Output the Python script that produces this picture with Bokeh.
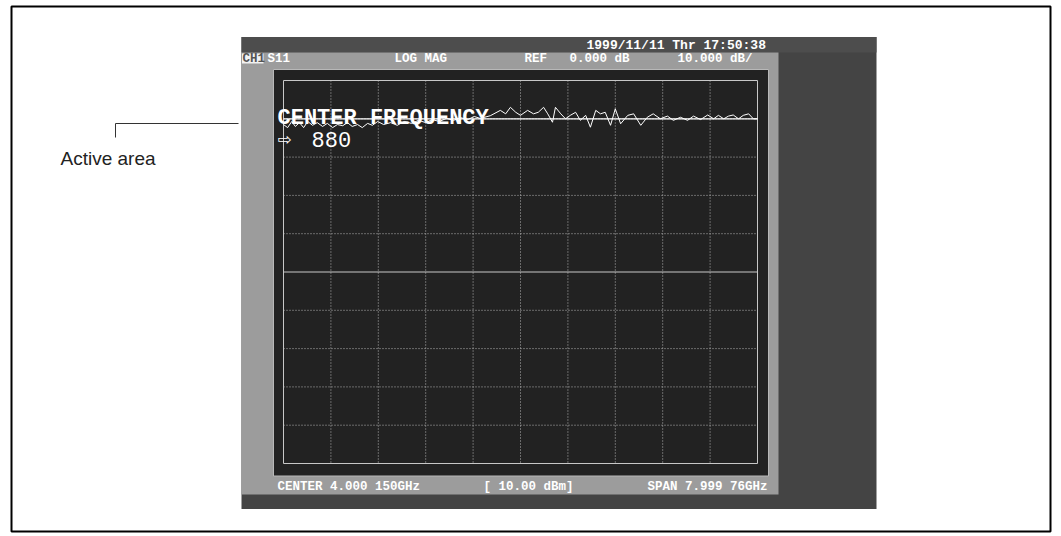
from bokeh.plotting import figure
from bokeh.models import Range1d
from bokeh.embed import file_html
from bokeh.resources import INLINE
from bokeh.core.properties import value

# ---------------- data ----------------
freq_ghz = [0.00, 0.07, 0.14, 0.20, 0.27, 0.34, 0.41, 0.49, 0.57, 0.66,
            0.74, 0.83, 0.91, 1.00, 1.08, 1.16, 1.25, 1.33, 1.42, 1.50,
            1.59, 1.69, 1.81, 1.92, 2.04, 2.16, 2.28, 2.40, 2.51, 2.63,
            2.75, 2.87, 2.99, 3.11, 3.22, 3.32,
            3.49, 3.66, 3.75, 3.83, 3.92, 4.00, 4.12, 4.22, 4.30, 4.39,
            4.46, 4.54, 4.59, 4.68, 4.76, 4.84, 4.93, 5.01, 5.10, 5.18,
            5.27, 5.35, 5.43, 5.52, 5.60, 5.69, 5.81, 5.91, 6.03, 6.14,
            6.24, 6.36, 6.48, 6.58, 6.70, 6.82, 6.92, 7.04, 7.16, 7.26,
            7.34, 7.43, 7.51, 7.59, 7.68, 7.76, 7.85, 7.93, 8.00]
trace_db = [-1.5, -2.3, -0.7, -2.0, -1.0, -2.3, -0.7, -1.7, -1.0, -2.0,
            -1.2, -2.3, -1.5, -1.8, -1.0, -2.0, -1.5, -2.3, -1.2, -1.7,
            -0.7, -1.5, -1.0, -1.7, -0.7, -1.2, -0.4, -1.0, -0.2, -0.7,
            0.1, -0.4, 0.3, -0.2, 0.6, 0.1,
            0.8, 2.2, 1.3, 3.0, 1.7, 0.9, 2.2, 1.3, 1.7, 3.0,
            1.3, -0.9, 3.0, 1.3, 0.0, 0.9, 1.7, -0.4, 0.9, -2.2,
            2.2, 1.3, 1.7, -1.7, 2.6, -1.3, 0.9, 1.3, -1.7, 0.4,
            1.3, 0.0, 0.7, -0.4, 0.4, -0.4, 0.7, -0.2, 1.0, 0.0,
            0.9, 0.0, 0.7, 1.0, 0.0, 0.9, 1.3, 0.0, 0.0]

ref_level_db = 0.0
db_per_div = 10.0
center_ghz = 4.000150
span_ghz = 7.99976

date_text = "1999/11/11 Thr 17:50:38"
channel_label = "CH1"
header_labels = ["S11", "LOG MAG", "REF", "0.000 dB", "10.000 dB/"]
footer_labels = ["CENTER 4.000 150GHz", "[ 10.00 dBm]", "SPAN 7.999 76GHz"]
entry_title = "CENTER FREQUENCY"
entry_arrow = "\u21e8"
entry_value = "880"
callout_text = "Active area"

# ---------------- layout (picture pixels) ----------------
OFF = 0
W, H = 1055, 533
GX0, GX1 = 283, 757      # graticule left/right
GY0, GY1 = 80, 463       # graticule top/bottom

p = figure(width=W, height=H,
           x_range=Range1d(OFF, OFF + W), y_range=Range1d(OFF + H, OFF),
           output_backend="svg", toolbar_location=None,
           x_axis_location=None, y_axis_location=None, min_border=0)
p.grid.visible = False
p.outline_line_color = None
p.background_fill_color = "white"
p.border_fill_color = "white"

# data scales mapped onto the graticule
f_start = center_ghz - span_ghz / 2
f_stop = center_ghz + span_ghz / 2
ppx = (GX1 - GX0) / (f_stop - f_start)
db_top = ref_level_db + db_per_div
db_bot = db_top - 10 * db_per_div
ppy = (GY1 - GY0) / (db_top - db_bot)
p.extra_x_ranges = {"freq": Range1d(f_start - (GX0 - OFF) / ppx,
                                    f_stop + (OFF + W - GX1) / ppx)}
p.extra_y_ranges = {"db": Range1d(db_bot - (OFF + H - GY1) / ppy,
                                  db_top + (GY0 - OFF) / ppy)}

# outer document frame
p.quad(left=[11], right=[1050], top=[6], bottom=[531],
       fill_color=None, line_color="black", line_width=2)

# instrument screen
p.quad(left=[241], right=[876], top=[36.5], bottom=[508.5],
       fill_color="#444444", line_color=None)
p.quad(left=[241], right=[876], top=[36.5], bottom=[52],
       fill_color="#4d4d4d", line_color=None)
p.quad(left=[241], right=[778], top=[52], bottom=[494],
       fill_color="#9c9c9c", line_color=None)
p.quad(left=[273], right=[768], top=[69], bottom=[475.5],
       fill_color="#222222", line_color="#b8b8b8", line_width=1)

# graticule
vx = [f_start + k * span_ghz / 10 for k in range(1, 10)]
p.segment(x0=vx, x1=vx, y0=[db_top] * 9, y1=[db_bot] * 9,
          x_range_name="freq", y_range_name="db",
          line_color="#b4b4b4", line_width=1, line_dash="1 2")
hy = [db_top - k * db_per_div for k in range(1, 10) if k != 5]
p.segment(x0=[f_start] * len(hy), x1=[f_stop] * len(hy), y0=hy, y1=hy,
          x_range_name="freq", y_range_name="db",
          line_color="#b4b4b4", line_width=1, line_dash="1 2")
mid = db_top - 5 * db_per_div
p.segment(x0=[f_start], x1=[f_stop], y0=[mid], y1=[mid],
          x_range_name="freq", y_range_name="db",
          line_color="#c8c8c8", line_width=1)
p.quad(left=[f_start], right=[f_stop], top=[db_top], bottom=[db_bot],
       x_range_name="freq", y_range_name="db",
       fill_color=None, line_color="#c8c8c8", line_width=1)

# reference line and trace
p.segment(x0=[f_start], x1=[f_stop], y0=[ref_level_db], y1=[ref_level_db],
          x_range_name="freq", y_range_name="db",
          line_color="white", line_width=1.2)
p.line(x=freq_ghz, y=trace_db, x_range_name="freq", y_range_name="db",
       line_color="white", line_width=1)

mono = value("Liberation Mono")

# status texts
p.text(x=[586], y=[44.5], text=[date_text], text_font=mono,
       text_font_size="13px", text_font_style="bold", text_color="white",
       text_baseline="middle")
p.quad(left=[241.5], right=[263], top=[53], bottom=[63],
       fill_color="#f2f2f2", line_color=None)
p.text(x=[242], y=[58.5], text=[channel_label], text_font=mono,
       text_font_size="12.5px", text_font_style="bold", text_color="#555555",
       text_baseline="middle")
p.text(x=[267, 394, 524, 569, 677], y=[58.5] * 5, text=header_labels,
       text_font=mono, text_font_size="12.5px", text_font_style="bold",
       text_color="white", text_baseline="middle")
p.text(x=[277, 483, 647], y=[486] * 3, text=footer_labels,
       text_font=mono, text_font_size="12.5px", text_font_style="bold",
       text_color="white", text_baseline="middle")

# data-entry overlay
p.text(x=[277], y=[118], text=[entry_title], text_font=mono,
       text_font_size="22px", text_font_style="bold", text_color="white",
       text_baseline="middle")
p.text(x=[277], y=[138.5], text=[entry_arrow], text_font=value("DejaVu Sans"),
       text_font_size="17px", text_color="white", text_baseline="middle")
p.text(x=[311], y=[138.5], text=[entry_value], text_font=mono,
       text_font_size="22px", text_color="white", text_baseline="middle")

# callout
p.line(x=[238, 115, 115], y=[123, 123, 137], line_color="#333333", line_width=1)
p.text(x=[60], y=[157.5], text=[callout_text], text_font=value("Liberation Sans"),
       text_font_size="19px", text_color="#222222", text_baseline="middle")

open("out.html", "w").write(file_html(p, INLINE))
